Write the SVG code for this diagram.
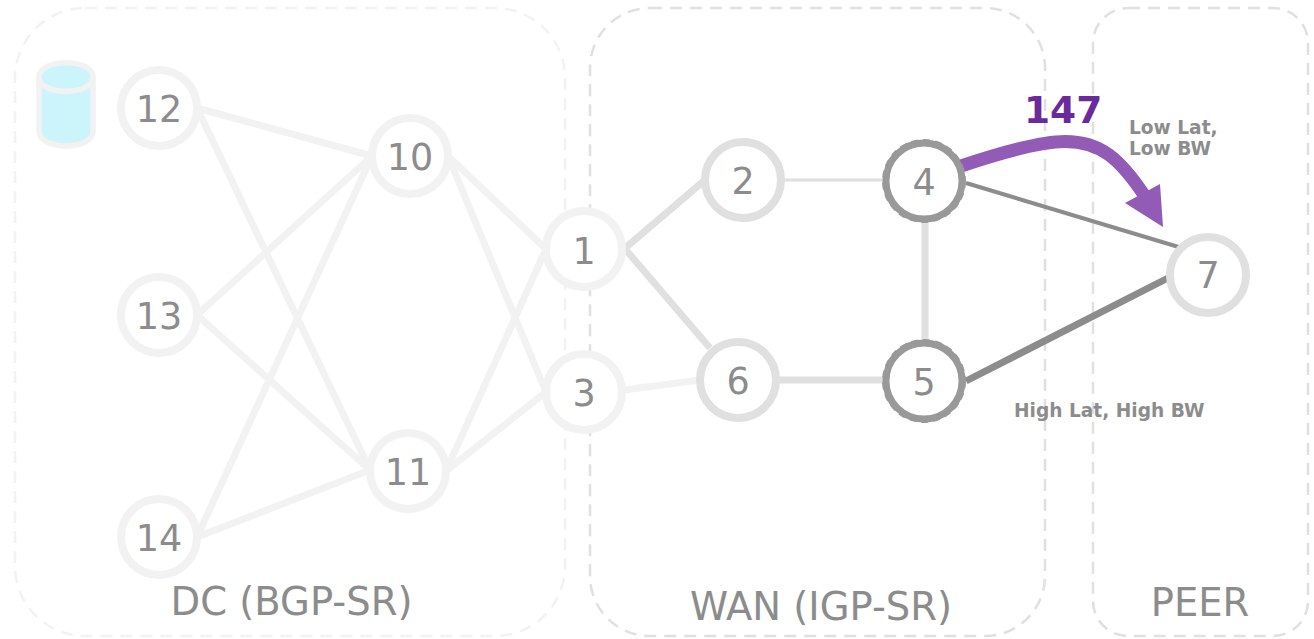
<svg xmlns="http://www.w3.org/2000/svg" width="1314" height="639" viewBox="0 0 1314 639">
<style>
text{font-family:"DejaVu Sans",Verdana,sans-serif;fill:#8c8c8c}
.n{font-size:36.5px;text-anchor:middle}
.t{font-size:38.5px;text-anchor:middle}
.s{font-size:18.6px;font-weight:bold}
.box{fill:none;stroke-width:2.5;stroke-dasharray:12 8}
.c{fill:#fff;stroke-width:8}
.light{stroke:#f2f2f2}
.mid{stroke:#e0e0e0}
.dark{stroke:#999;stroke-width:7}
.j{fill:none;stroke:#999;stroke-width:2;stroke-dasharray:7 5}
.e{fill:none;stroke-width:7}
</style>
<rect width="1314" height="639" fill="#fff"/>
<g id="zones">
<rect class="box" x="15" y="8" width="550" height="628" rx="70" stroke="#f2f2f2"/>
<rect class="box" x="590" y="8" width="455" height="628" rx="60" stroke="#e0e0e0"/>
<rect class="box" x="1093" y="8" width="215" height="628" rx="35" stroke="#e0e0e0"/>
</g>
<g id="connectors">
<g class="e light">
<path d="M197 108L372 156M197 108L370 470M197 315L372 156M197 315L370 470M197 537L372 156M197 537L370 470M448 156L546 249M448 156L546 392M446 471L546 249M446 471L546 392M624 390L700 380"/>
</g>
<g class="e mid">
<path d="M624 249L705 180M626 250L710 348M776 380L885 380M925 220L925 344"/>
<path d="M783 180L885 180" stroke-width="3"/>
</g>
<path d="M966 183L1182 248" fill="none" stroke="#8c8c8c" stroke-width="4"/>
<path d="M966 381L1170 277" fill="none" stroke="#8c8c8c" stroke-width="7"/>
<path d="M961 166C1000 153 1040 141.500 1065 141.500C1100 141.500 1120 158 1146 198" fill="none" stroke="#925cb6" stroke-width="13"/>
<path d="M1125 203L1160 184L1163 227Z" fill="#925cb6"/>
</g>
<g id="db">
<path d="M39 77C39 58 93 58 93 77V131C93 151 39 151 39 131Z" fill="#ccf5fb" stroke="#f2f2f2" stroke-width="5.500"/>
<path d="M39 77C39 96 93 96 93 77" fill="none" stroke="#f2f2f2" stroke-width="5.500"/>
</g>
<g id="node12"><circle class="c light" cx="159" cy="108" r="38"/><text class="n" x="159" y="122">12</text></g>
<g id="node13"><circle class="c light" cx="159" cy="315" r="38"/><text class="n" x="159" y="329">13</text></g>
<g id="node14"><circle class="c light" cx="159" cy="537" r="38"/><text class="n" x="159" y="551">14</text></g>
<g id="node10"><circle class="c light" cx="410" cy="156" r="38"/><text class="n" x="410" y="170">10</text></g>
<g id="node11"><circle class="c light" cx="408" cy="471" r="38"/><text class="n" x="408" y="485">11</text></g>
<g id="node1"><circle class="c light" cx="584" cy="249" r="38"/><text class="n" x="584" y="264">1</text></g>
<g id="node3"><circle class="c light" cx="584" cy="392" r="38"/><text class="n" x="584" y="406">3</text></g>
<g id="node2"><circle class="c mid" cx="743" cy="180" r="38"/><text class="n" x="743" y="194">2</text></g>
<g id="node6"><circle class="c mid" cx="738" cy="380" r="38"/><text class="n" x="738" y="394">6</text></g>
<g id="node4"><circle class="c dark" cx="924" cy="181" r="38"/><circle class="j" cx="924" cy="181" r="41"/><text class="n" x="924" y="195">4</text></g>
<g id="node5"><circle class="c dark" cx="924" cy="381" r="38"/><circle class="j" cx="924" cy="381" r="41"/><text class="n" x="924" y="395">5</text></g>
<g id="node7"><circle class="c mid" cx="1208" cy="275" r="38"/><text class="n" x="1208" y="288">7</text></g>
<g id="labels">
<text class="t" x="291.500" y="615">DC (BGP-SR)</text>
<text class="t" x="821" y="620">WAN (IGP-SR)</text>
<text class="t" x="1200" y="616">PEER</text>
<text x="1024" y="123" font-size="37.500" font-weight="bold" style="fill:#6a2a9c">147</text>
<text class="s" x="1129" y="134">Low Lat,</text>
<text class="s" x="1129" y="155">Low BW</text>
<text class="s" x="1014" y="417">High Lat, High BW</text>
</g>
</svg>
